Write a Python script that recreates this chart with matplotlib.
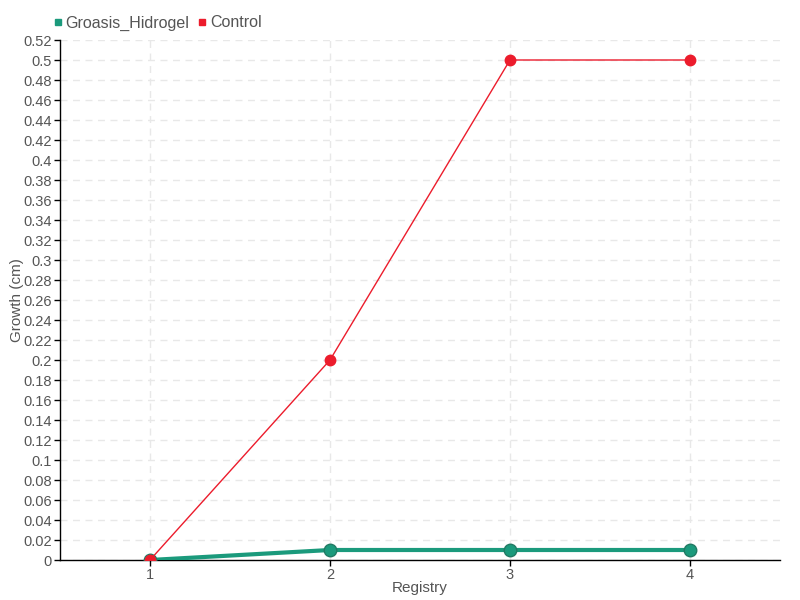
import matplotlib
matplotlib.use("Agg")
import matplotlib.pyplot as plt
import numpy as np

categories = ["1", "2", "3", "4"]
groasis = [0, 0.01, 0.01, 0.01]
control = [0, 0.2, 0.5, 0.5]
yticks = [round(0.02 * i, 2) for i in range(27)]

plt.rcParams['font.family'] = ['Liberation Sans', 'DejaVu Sans']
fig = plt.figure(figsize=(8, 6), dpi=100)
ax = fig.add_axes([0.075, 1 - 560 / 600, 0.9, 520 / 600])

x = np.arange(1, len(categories) + 1)
green = "#1b9a7c"
red = "#ec1c2c"
ax.plot(x, groasis, color=green, lw=3, marker="o", ms=9, mfc=green, mec="#217a64", mew=1, zorder=3, label="Groasis_Hidrogel")
ax.plot(x, control, color=red, lw=1, marker="o", ms=7.5, mfc=red, mec=red, zorder=4, label="Control")

ax.set_xlim(0.5, 4.5)
ax.set_ylim(0, 0.52)
ax.set_xticks(x)
ax.set_xticklabels(categories)
ax.set_yticks(yticks)
ax.set_yticklabels([("%g" % v) for v in yticks])
ax.tick_params(axis="both", labelcolor="#555555", labelsize=10.5, length=4, width=1, color="black", pad=2)
ax.grid(True, color="#e8e8e8", ls=(0, (5, 4)), lw=1)
ax.set_axisbelow(True)
for s in ["top", "right"]:
    ax.spines[s].set_visible(False)
for s in ["left", "bottom"]:
    ax.spines[s].set_color("black")
    ax.spines[s].set_linewidth(1)
ax.set_xlabel("Registry", color="#555555", fontsize=11, labelpad=-1)
ax.set_ylabel("Growth (cm)", color="#555555", fontsize=11)
ax.yaxis.set_label_coords(-(60 - 24) / 720, 0.5)

from matplotlib.lines import Line2D
handles = [Line2D([], [], ls="", marker="s", ms=5, color=green),
           Line2D([], [], ls="", marker="s", ms=5, color=red)]
leg = fig.legend(handles, ["Groasis_Hidrogel", "Control"], loc="upper left",
                 bbox_to_anchor=(0.058, 0.985), ncol=2, frameon=False,
                 handlelength=0.6, handletextpad=0.2, columnspacing=0.5,
                 fontsize=11.5, borderaxespad=0)
for t in leg.get_texts():
    t.set_color("#555555")

fig.savefig("out.png", dpi=100)
